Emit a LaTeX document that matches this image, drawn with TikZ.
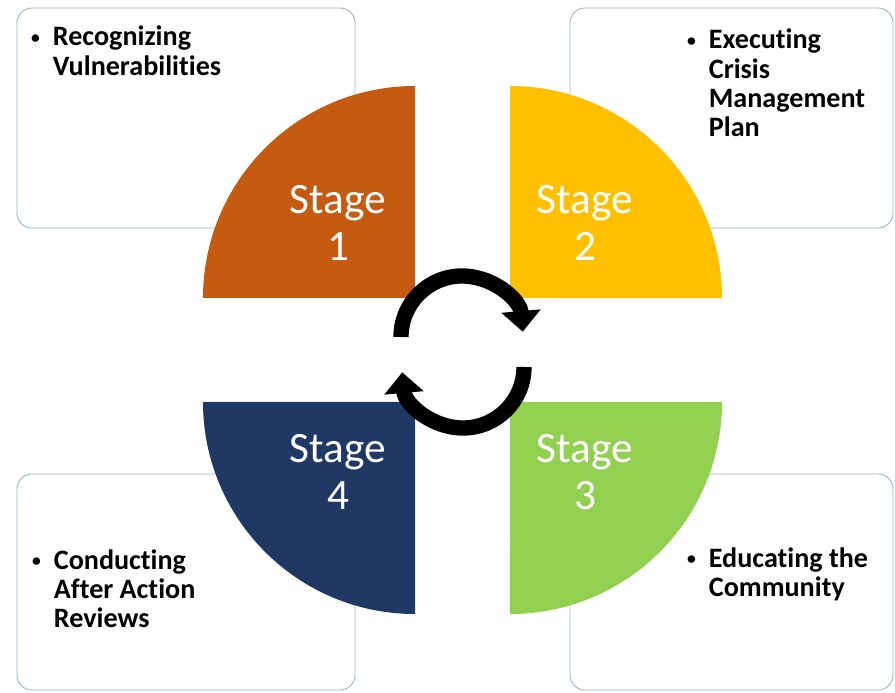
\documentclass[tikz,border=0pt]{standalone}
\usepackage{fontspec}
\setmainfont{Carlito}[Ligatures=NoCommon]
\usetikzlibrary{arrows.meta}
\definecolor{stageorange}{HTML}{C55A11}
\definecolor{stageyellow}{HTML}{FFC000}
\definecolor{stagegreen}{HTML}{92D050}
\definecolor{stagenavy}{HTML}{1F3864}
\definecolor{boxline}{HTML}{9DB3C8}
\tikzstyle{infobox} = [draw=boxline, line width=0.8pt, rounded corners=0.45cm, fill=white, inner sep=0pt]
\tikzstyle{stagelabel} = [text=white, align=center, inner sep=0pt, font=\fontsize{37}{40}\selectfont]
\tikzstyle{point} = [anchor=base west, inner sep=0pt, font=\bfseries\fontsize{24}{25}\selectfont]
\tikzstyle{turnarrow} = [line width=0.46cm, -{Triangle[width=1.15cm,length=0.62cm]}]
\newcommand{\bulletitem}[1]{\begin{tabular}[t]{@{}p{18.5pt}@{}l@{}}\raisebox{2.5pt}{\fontsize{15}{15}\selectfont\textbullet} & #1\end{tabular}}

\begin{document}
\begin{tikzpicture}[x=0.03cm, y=0.03cm]
    \useasboundingbox (0,0) rectangle (895,692);
    \node[infobox, minimum width=10.14cm, minimum height=6.6cm] (box1) at (186,574) {};
    \node[infobox, minimum width=9.69cm, minimum height=6.6cm] (box2) at (731.5,574) {};
    \node[infobox, minimum width=9.69cm, minimum height=6.48cm] (box3) at (731.5,110) {};
    \node[infobox, minimum width=10.14cm, minimum height=6.48cm] (box4) at (186,110) {};
    \fill[stageorange] (415,394) -- ++(-212,0) arc[start angle=180, end angle=90, radius=6.36cm] -- cycle;
    \fill[stageyellow] (510,394) -- ++(0,212) arc[start angle=90, end angle=0, radius=6.36cm] -- cycle;
    \fill[stagegreen] (510,290) -- ++(212,0) arc[start angle=0, end angle=-90, radius=6.36cm] -- cycle;
    \fill[stagenavy] (415,290) -- ++(0,-212) arc[start angle=270, end angle=180, radius=6.36cm] -- cycle;
    \node[stagelabel] (stage1) at (338,469) {Stage\\1};
    \node[stagelabel] (stage2) at (585,469) {Stage\\2};
    \node[stagelabel] (stage3) at (585,220) {Stage\\3};
    \node[stagelabel] (stage4) at (338,220) {Stage\\4};
    \node[point] (vuln) at (31,646) {\bulletitem{Recognizing\\ & Vulnerabilities}};
    \node[point] (plan) at (687,643) {\bulletitem{Executing\\ & Crisis\\ & Management\\ & Plan}};
    \node[point] (educ) at (687,125) {\bulletitem{Educating the\\ & Community}};
    \node[point] (review) at (32,123) {\bulletitem{Conducting\\ & After Action\\ & Reviews}};
    \draw[turnarrow] (401,355) arc[start angle=180, end angle=5, radius=1.83cm];
    \draw[turnarrow] (524,325) arc[start angle=0, end angle=-175, radius=1.83cm];
\end{tikzpicture}
\end{document}
